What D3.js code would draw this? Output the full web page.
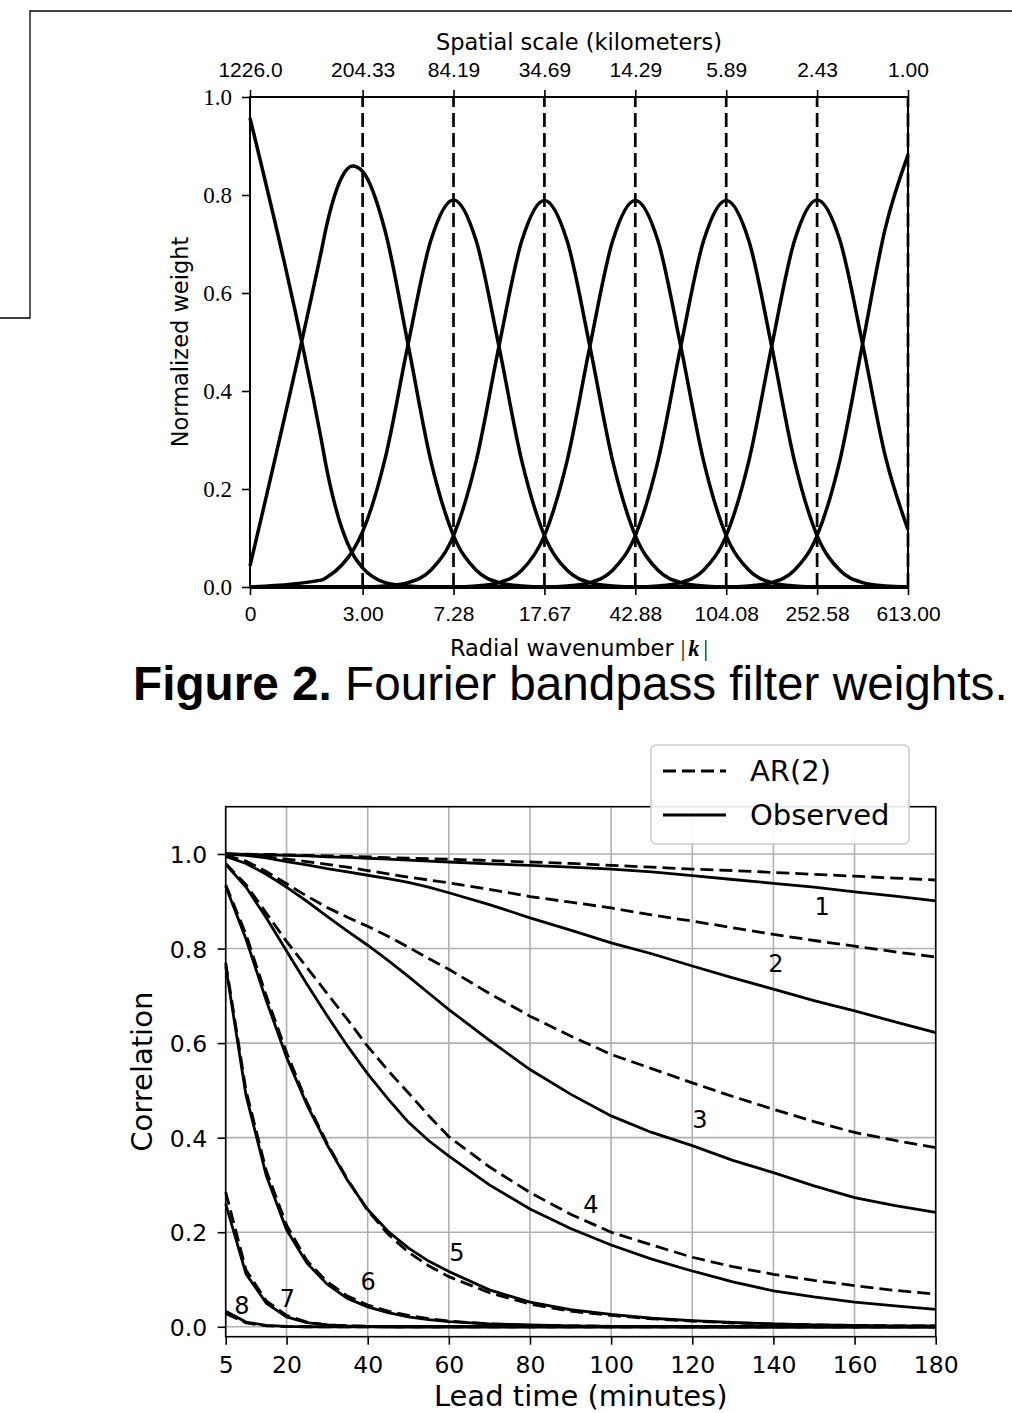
<!DOCTYPE html>
<html>
<head>
<meta charset="utf-8">
<title>Figure 2</title>
<script src="https://cdn.jsdelivr.net/npm/d3@7"></script>
<style>
  body { margin: 0; background: #fff; }
  svg { display: block; }
</style>
</head>
<body>
<div id="chart"></div>
<script>
// ---- top panel: bandpass filter weights ----
const wavenumbers = [1, 2, 2.117, 2.46, 2.718, 3, 3.744, 4.673, 5.833, 7.28, 9.088, 11.34, 14.16, 17.67,
    22.06, 27.53, 34.36, 42.88, 53.53, 66.82, 83.4, 104.08, 129.9, 162.2, 202.4, 252.58, 315.3, 393.6,
    491.2, 613];
const band0 = [0.957, 0.303, 0.239, 0.117, 0.068, 0.039, 0.009, 0.002,
    0, 0, 0, 0, 0, 0, 0, 0, 0, 0, 0, 0, 0, 0, 0, 0, 0, 0, 0, 0, 0, 0];
const band1 = [0.043, 0.683, 0.74, 0.838, 0.859, 0.848, 0.725, 0.495, 0.258, 0.105, 0.034, 0.009, 0.002,
    0, 0, 0, 0, 0, 0, 0, 0, 0, 0, 0, 0, 0, 0, 0, 0, 0];
const band2 = [0, 0.014, 0.02, 0.046, 0.073, 0.113, 0.264, 0.495, 0.707, 0.79, 0.706, 0.491, 0.258, 0.105,
    0.034, 0.009, 0.002, 0, 0, 0, 0, 0, 0, 0, 0, 0, 0, 0, 0, 0];
const band3 = [0, 0, 0, 0, 0, 0, 0.002, 0.009, 0.034, 0.105, 0.258, 0.491, 0.706, 0.789, 0.706, 0.491,
    0.258, 0.105, 0.034, 0.009, 0.002, 0, 0, 0, 0, 0, 0, 0, 0, 0];
const band4 = [0, 0, 0, 0, 0, 0, 0, 0, 0, 0, 0.002, 0.009, 0.034, 0.105, 0.258, 0.491, 0.706, 0.789,
    0.706, 0.491, 0.258, 0.105, 0.034, 0.009, 0.002, 0, 0, 0, 0, 0];
const band5 = [0, 0, 0, 0, 0, 0, 0, 0, 0, 0, 0, 0, 0, 0, 0.002, 0.009, 0.034, 0.105, 0.258, 0.491, 0.706,
    0.789, 0.706, 0.491, 0.258, 0.105, 0.034, 0.009, 0.002, 0];
const band6 = [0, 0, 0, 0, 0, 0, 0, 0, 0, 0, 0, 0, 0, 0, 0, 0, 0, 0, 0.002, 0.009, 0.034, 0.105, 0.258,
    0.491, 0.706, 0.79, 0.708, 0.496, 0.267, 0.117];
const band7 = [0, 0, 0, 0, 0, 0, 0, 0, 0, 0, 0, 0, 0, 0, 0, 0, 0, 0, 0, 0, 0, 0, 0.002, 0.009, 0.034,
    0.105, 0.258, 0.496, 0.732, 0.882];
const bands = [band0, band1, band2, band3, band4, band5, band6, band7];

const kTicks = [1, 3, 7.28, 17.67, 42.88, 104.08, 252.58, 613];
const kTickLabels = ["0", "3.00", "7.28", "17.67", "42.88", "104.08", "252.58", "613.00"];
const scaleTickLabels = ["1226.0", "204.33", "84.19", "34.69", "14.29", "5.89", "2.43", "1.00"];
const weightTicks = [0, 0.2, 0.4, 0.6, 0.8, 1.0];

// ---- bottom panel: correlation vs lead time per cascade level ----
const leadTimes = [5, 10, 15, 20, 25, 30, 35, 40, 45, 50, 55, 60, 70, 80, 90, 100, 110, 120, 130, 140, 150, 160, 170, 180];
const obs1 = [1.0, 0.999, 0.998, 0.997, 0.996, 0.994, 0.993, 0.991, 0.989, 0.987, 0.985, 0.983, 0.979, 0.976, 0.972, 0.968, 0.962, 0.954, 0.946, 0.938, 0.93, 0.92, 0.911, 0.901];
const ar1 = [1.0, 0.9995, 0.999, 0.998, 0.997, 0.996, 0.995, 0.994, 0.992, 0.991, 0.99, 0.989, 0.986, 0.983, 0.98, 0.976, 0.972, 0.968, 0.965, 0.961, 0.957, 0.953, 0.949, 0.945];
const obs2 = [1.0, 0.997, 0.992, 0.984, 0.977, 0.969, 0.962, 0.955, 0.948, 0.94, 0.93, 0.918, 0.893, 0.865, 0.839, 0.812, 0.789, 0.763, 0.738, 0.714, 0.69, 0.668, 0.645, 0.622];
const ar2 = [1.0, 0.998, 0.994, 0.989, 0.984, 0.978, 0.972, 0.965, 0.958, 0.951, 0.945, 0.939, 0.925, 0.91, 0.898, 0.886, 0.871, 0.858, 0.844, 0.83, 0.817, 0.805, 0.793, 0.782];
const obs3 = [0.995, 0.98, 0.957, 0.93, 0.9, 0.868, 0.837, 0.807, 0.775, 0.741, 0.706, 0.671, 0.606, 0.544, 0.492, 0.446, 0.411, 0.383, 0.352, 0.326, 0.298, 0.273, 0.256, 0.242];
const ar3 = [0.997, 0.985, 0.963, 0.937, 0.911, 0.887, 0.866, 0.847, 0.826, 0.803, 0.779, 0.756, 0.705, 0.657, 0.615, 0.576, 0.546, 0.516, 0.487, 0.46, 0.434, 0.411, 0.394, 0.379];
const obs4 = [0.978, 0.93, 0.865, 0.795, 0.725, 0.658, 0.594, 0.535, 0.482, 0.433, 0.394, 0.361, 0.3, 0.249, 0.208, 0.173, 0.143, 0.118, 0.095, 0.076, 0.063, 0.052, 0.044, 0.037];
const ar4 = [0.98, 0.935, 0.875, 0.815, 0.76, 0.705, 0.65, 0.593, 0.542, 0.495, 0.447, 0.402, 0.338, 0.284, 0.238, 0.2, 0.173, 0.147, 0.127, 0.111, 0.098, 0.087, 0.077, 0.069];
const obs5 = [0.932, 0.82, 0.69, 0.57, 0.47, 0.385, 0.31, 0.248, 0.202, 0.167, 0.139, 0.117, 0.078, 0.052, 0.036, 0.026, 0.018, 0.013, 0.009, 0.006, 0.004, 0.003, 0.002, 0.002];
const ar5 = [0.935, 0.83, 0.7, 0.58, 0.475, 0.388, 0.312, 0.246, 0.196, 0.158, 0.129, 0.106, 0.072, 0.048, 0.033, 0.024, 0.017, 0.012, 0.008, 0.006, 0.004, 0.003, 0.002, 0.002];
const obs6 = [0.763, 0.49, 0.32, 0.205, 0.135, 0.09, 0.06, 0.042, 0.03, 0.021, 0.015, 0.011, 0.006, 0.004, 0.002, 0.001, 0.001, 0, 0, 0, 0, 0, 0, 0];
const ar6 = [0.77, 0.5, 0.33, 0.215, 0.14, 0.095, 0.065, 0.046, 0.033, 0.024, 0.017, 0.012, 0.006, 0.003, 0.002, 0.001, 0.001, 0, 0, 0, 0, 0, 0, 0];
const obs7 = [0.26, 0.112, 0.05, 0.021, 0.009, 0.004, 0.002, 0.001, 0, 0, 0, 0, 0, 0, 0, 0, 0, 0, 0, 0, 0, 0, 0, 0];
const ar7 = [0.285, 0.12, 0.055, 0.024, 0.01, 0.004, 0.002, 0.001, 0, 0, 0, 0, 0, 0, 0, 0, 0, 0, 0, 0, 0, 0, 0, 0];
const obs8 = [0.033, 0.01, 0.003, 0.001, 0, 0, 0, 0, 0, 0, 0, 0, 0, 0, 0, 0, 0, 0, 0, 0, 0, 0, 0, 0];
const ar8 = [0.028, 0.008, 0.002, 0.0005, 0, 0, 0, 0, 0, 0, 0, 0, 0, 0, 0, 0, 0, 0, 0, 0, 0, 0, 0, 0];
const observedSeries = [obs1, obs2, obs3, obs4, obs5, obs6, obs7, obs8];
const arSeries = [ar1, ar2, ar3, ar4, ar5, ar6, ar7, ar8];

const levelNames = ["1", "2", "3", "4", "5", "6", "7", "8"];
const levelLabelTimes = [152, 140.6, 121.9, 95, 62, 40.1, 20.2, 9];
const levelLabelValues = [0.889, 0.768, 0.439, 0.258, 0.158, 0.095, 0.061, 0.046];

const leadTicks = [5, 20, 40, 60, 80, 100, 120, 140, 160, 180];
const corrTicks = [0, 0.2, 0.4, 0.6, 0.8, 1.0];

const sans = "DejaVu Sans, sans-serif";
const tickSans = "Liberation Sans, Arial, sans-serif";
const serif = "Liberation Serif, serif";

const svg = d3.select("#chart").append("svg").attr("width", 1012).attr("height", 1413);

// page frame left over from the crop of the document
svg.append("path").attr("d", "M1012,11H30V318H0")
    .attr("fill", "none").attr("stroke", "#000").attr("stroke-width", 1.3);

// ================= top panel =================
const p1 = { left: 250, right: 908, top: 97, bottom: 587 };
const kx = d3.scaleLog().domain([1, 613]).range([p1.left, p1.right]);
const wy = d3.scaleLinear().domain([0, 1]).range([p1.bottom, p1.top]);

const g1 = svg.append("g");

// dashed lines at the band centres
g1.selectAll("line.centre")
    .data(kTicks.slice(1))
    .join("line")
    .attr("class", "centre")
    .attr("x1", (d) => kx(d)).attr("x2", (d) => kx(d))
    .attr("y1", wy(0)).attr("y2", wy(1))
    .attr("stroke", "#000").attr("stroke-width", 2.7).attr("stroke-dasharray", "14,6");

const weightLine = d3.line()
    .x((d, i) => kx(wavenumbers[i]))
    .y((d) => wy(d))
    .curve(d3.curveMonotoneX);

g1.selectAll("path.band")
    .data(bands)
    .join("path")
    .attr("class", "band")
    .attr("d", weightLine)
    .attr("fill", "none").attr("stroke", "#000").attr("stroke-width", 3.5);

g1.append("rect")
    .attr("x", p1.left).attr("y", p1.top)
    .attr("width", p1.right - p1.left).attr("height", p1.bottom - p1.top)
    .attr("fill", "none").attr("stroke", "#000").attr("stroke-width", 2);

g1.append("g")
    .attr("transform", `translate(0,${p1.bottom})`)
    .call(d3.axisBottom(kx).tickValues(kTicks).tickFormat((d, i) => kTickLabels[i]).tickSize(8).tickSizeOuter(0))
    .call((g) => g.select(".domain").remove())
    .call((g) => g.selectAll("line").attr("stroke-width", 1.6))
    .call((g) => g.selectAll("text").attr("y", 34).attr("dy", null)
        .attr("font-family", tickSans).attr("font-size", 21).attr("fill", "#000"));

g1.append("g")
    .attr("transform", `translate(0,${p1.top})`)
    .call(d3.axisTop(kx).tickValues(kTicks).tickFormat((d, i) => scaleTickLabels[i]).tickSize(7).tickSizeOuter(0))
    .call((g) => g.select(".domain").remove())
    .call((g) => g.selectAll("line").attr("stroke-width", 1.6))
    .call((g) => g.selectAll("text").attr("y", -20).attr("dy", null)
        .attr("font-family", tickSans).attr("font-size", 21).attr("fill", "#000"));

g1.append("g")
    .attr("transform", `translate(${p1.left},0)`)
    .call(d3.axisLeft(wy).tickValues(weightTicks).tickFormat(d3.format(".1f")).tickSize(8).tickSizeOuter(0))
    .call((g) => g.select(".domain").remove())
    .call((g) => g.selectAll("line").attr("stroke-width", 1.6))
    .call((g) => g.selectAll("text").attr("x", -18).attr("dy", "0.33em")
        .attr("font-family", serif).attr("font-size", 23).attr("fill", "#000"));

g1.append("text")
    .attr("x", (p1.left + p1.right) / 2).attr("y", 50)
    .attr("text-anchor", "middle").attr("font-family", sans).attr("font-size", 22.5)
    .text("Spatial scale (kilometers)");

const kLabel = g1.append("text")
    .attr("x", (p1.left + p1.right) / 2).attr("y", 656)
    .attr("text-anchor", "middle").attr("font-family", sans).attr("font-size", 22.5);
kLabel.append("tspan").text("Radial wavenumber ");
kLabel.append("tspan").attr("font-family", serif).text("|");
kLabel.append("tspan").attr("dx", 3).attr("font-family", serif).attr("font-weight", "bold").attr("font-style", "italic").text("k");
kLabel.append("tspan").attr("dx", 4).attr("font-family", serif).text("|");

g1.append("text")
    .attr("transform", `translate(188,${(p1.top + p1.bottom) / 2}) rotate(-90)`)
    .attr("text-anchor", "middle").attr("font-family", sans).attr("font-size", 22.5)
    .text("Normalized weight");

// caption
const caption = svg.append("text")
    .attr("x", 133).attr("y", 700)
    .attr("font-family", "Liberation Sans, Arial, sans-serif").attr("font-size", 47.7);
caption.append("tspan").attr("font-weight", "bold").text("Figure 2.");
caption.append("tspan").text(" Fourier bandpass filter weights.");

// ================= bottom panel =================
const p2 = { left: 225.7, right: 935.7, top: 806.7, bottom: 1336.7 };
const tx = d3.scaleLinear().domain([5, 180]).range([p2.left, p2.right]);
const cy = d3.scaleLinear().domain([-0.021, 1.1]).range([p2.bottom, p2.top]);

const g2 = svg.append("g");

// grid
g2.selectAll("line.vgrid")
    .data(leadTicks)
    .join("line")
    .attr("class", "vgrid")
    .attr("x1", (d) => tx(d)).attr("x2", (d) => tx(d))
    .attr("y1", p2.top).attr("y2", p2.bottom)
    .attr("stroke", "#b0b0b0").attr("stroke-width", 1.6);
g2.selectAll("line.hgrid")
    .data(corrTicks)
    .join("line")
    .attr("class", "hgrid")
    .attr("x1", p2.left).attr("x2", p2.right)
    .attr("y1", (d) => cy(d)).attr("y2", (d) => cy(d))
    .attr("stroke", "#b0b0b0").attr("stroke-width", 1.6);

const corrLine = d3.line()
    .x((d, i) => tx(leadTimes[i]))
    .y((d) => cy(d));

g2.selectAll("path.ar")
    .data(arSeries)
    .join("path")
    .attr("class", "ar")
    .attr("d", corrLine)
    .attr("fill", "none").attr("stroke", "#000").attr("stroke-width", 2.8)
    .attr("stroke-dasharray", "13,6");

g2.selectAll("path.obs")
    .data(observedSeries)
    .join("path")
    .attr("class", "obs")
    .attr("d", corrLine)
    .attr("fill", "none").attr("stroke", "#000").attr("stroke-width", 2.8);

g2.selectAll("text.level")
    .data(levelNames)
    .join("text")
    .attr("class", "level")
    .attr("x", (d, i) => tx(levelLabelTimes[i]))
    .attr("y", (d, i) => cy(levelLabelValues[i]))
    .attr("dy", "0.36em")
    .attr("text-anchor", "middle").attr("font-family", sans).attr("font-size", 24)
    .text((d) => d);

g2.append("rect")
    .attr("x", p2.left).attr("y", p2.top)
    .attr("width", p2.right - p2.left).attr("height", p2.bottom - p2.top)
    .attr("fill", "none").attr("stroke", "#000").attr("stroke-width", 1.6);

g2.append("g")
    .attr("transform", `translate(0,${p2.bottom})`)
    .call(d3.axisBottom(tx).tickValues(leadTicks).tickFormat(d3.format("d")).tickSize(8).tickSizeOuter(0))
    .call((g) => g.select(".domain").remove())
    .call((g) => g.selectAll("line").attr("stroke-width", 1.6))
    .call((g) => g.selectAll("text").attr("y", 36).attr("dy", null)
        .attr("font-family", sans).attr("font-size", 23.5).attr("fill", "#000"));

g2.append("g")
    .attr("transform", `translate(${p2.left},0)`)
    .call(d3.axisLeft(cy).tickValues(corrTicks).tickFormat(d3.format(".1f")).tickSize(8).tickSizeOuter(0))
    .call((g) => g.select(".domain").remove())
    .call((g) => g.selectAll("line").attr("stroke-width", 1.6))
    .call((g) => g.selectAll("text").attr("x", -18.5).attr("dy", "0.36em")
        .attr("font-family", sans).attr("font-size", 23.5).attr("fill", "#000"));

g2.append("text")
    .attr("x", (p2.left + p2.right) / 2).attr("y", 1406)
    .attr("text-anchor", "middle").attr("font-family", sans).attr("font-size", 29)
    .text("Lead time (minutes)");

g2.append("text")
    .attr("transform", `translate(152,${(p2.top + p2.bottom) / 2}) rotate(-90)`)
    .attr("text-anchor", "middle").attr("font-family", sans).attr("font-size", 29)
    .text("Correlation");

// legend, drawn over the top spine like in the original
const legend = g2.append("g").attr("transform", "translate(651,745)");
legend.append("rect")
    .attr("width", 258).attr("height", 99).attr("rx", 5)
    .attr("fill", "#fff").attr("fill-opacity", 0.9)
    .attr("stroke", "#cccccc").attr("stroke-width", 1.6);
const legendItems = [
    { name: "AR(2)", dash: "13,6" },
    { name: "Observed", dash: null },
];
legendItems.forEach((item, i) => {
    const yy = 26 + i * 44;
    legend.append("line")
        .attr("x1", 12).attr("x2", 75).attr("y1", yy).attr("y2", yy)
        .attr("stroke", "#000").attr("stroke-width", 2.8)
        .attr("stroke-dasharray", item.dash);
    legend.append("text")
        .attr("x", 99).attr("y", yy).attr("dy", "0.36em")
        .attr("font-family", sans).attr("font-size", 29)
        .text(item.name);
});
</script>
</body>
</html>
